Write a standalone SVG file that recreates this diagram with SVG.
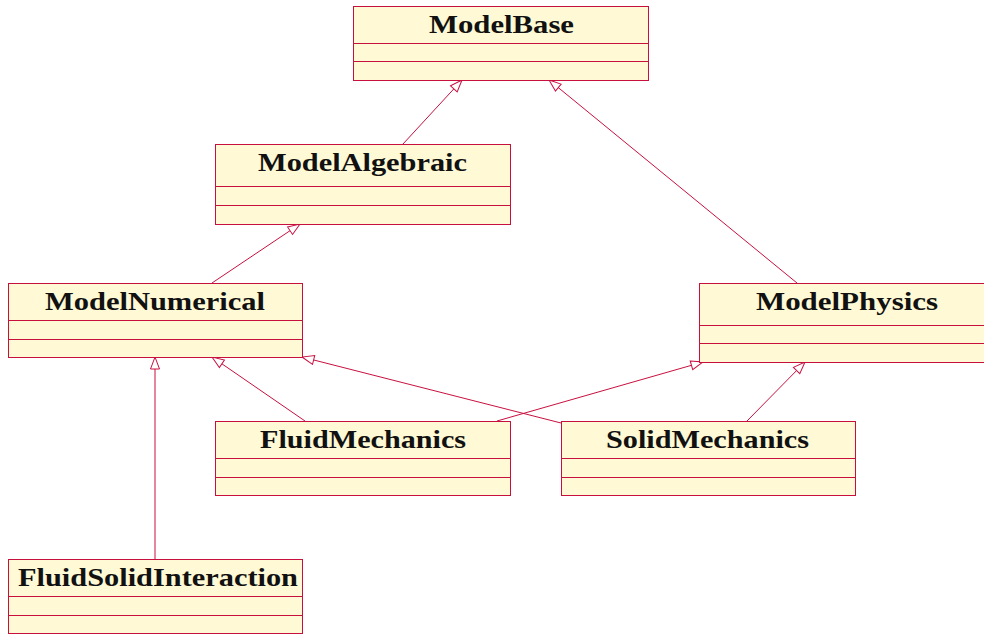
<svg xmlns="http://www.w3.org/2000/svg" width="984" height="635" viewBox="0 0 984 635">
<style>
.box{fill:#FFF9D5;stroke:#C8103F;stroke-width:1}
.div{stroke:#C8103F;stroke-width:1}
.t{font-family:"Liberation Serif",serif;font-weight:bold;font-size:25px;fill:#111;text-anchor:middle}
.c{stroke:#C8103F;stroke-width:1;fill:none;marker-end:url(#tri)}
</style>
<defs>
<marker id="tri" markerUnits="userSpaceOnUse" markerWidth="16" markerHeight="12" refX="13" refY="5.5" orient="auto">
<path d="M1,1 L13,5.5 L1,10 z" fill="#fff" stroke="#C8103F" stroke-width="1"/>
</marker>
</defs>
<rect width="984" height="635" fill="#fff"/>
<g id="connectors">
<path class="c" d="M403,144 L462,80"/>
<path class="c" d="M797,283 L549,80"/>
<path class="c" d="M212,283 L300,224"/>
<path class="c" d="M155,559 L155,357"/>
<path class="c" d="M305,421 L212,357"/>
<path class="c" d="M561,423 L302,357"/>
<path class="c" d="M497,421 L703,362"/>
<path class="c" d="M747,421 L805,362"/>
</g>
<g id="ModelBase">
<rect class="box" x="353.5" y="6.5" width="295" height="74"/>
<line class="div" x1="353.5" y1="43.5" x2="648.5" y2="43.5"/>
<line class="div" x1="353.5" y1="61.5" x2="648.5" y2="61.5"/>
<text class="t" x="501.5" y="33" textLength="145" lengthAdjust="spacingAndGlyphs">ModelBase</text>
</g>
<g id="ModelAlgebraic">
<rect class="box" x="215.5" y="144.5" width="295" height="80"/>
<line class="div" x1="215.5" y1="186.5" x2="510.5" y2="186.5"/>
<line class="div" x1="215.5" y1="205.5" x2="510.5" y2="205.5"/>
<text class="t" x="362.5" y="171" textLength="209" lengthAdjust="spacingAndGlyphs">ModelAlgebraic</text>
</g>
<g id="ModelNumerical">
<rect class="box" x="8.5" y="283.5" width="294" height="74"/>
<line class="div" x1="8.5" y1="320.5" x2="302.5" y2="320.5"/>
<line class="div" x1="8.5" y1="339.5" x2="302.5" y2="339.5"/>
<text class="t" x="155" y="310" textLength="220" lengthAdjust="spacingAndGlyphs">ModelNumerical</text>
</g>
<g id="ModelPhysics">
<rect class="box" x="699.5" y="283.5" width="295" height="79"/>
<line class="div" x1="699.5" y1="325.5" x2="994.5" y2="325.5"/>
<line class="div" x1="699.5" y1="343.5" x2="994.5" y2="343.5"/>
<text class="t" x="847" y="310" textLength="182" lengthAdjust="spacingAndGlyphs">ModelPhysics</text>
</g>
<g id="FluidMechanics">
<rect class="box" x="215.5" y="421.5" width="295" height="74"/>
<line class="div" x1="215.5" y1="458.5" x2="510.5" y2="458.5"/>
<line class="div" x1="215.5" y1="477.5" x2="510.5" y2="477.5"/>
<text class="t" x="363" y="448" textLength="206" lengthAdjust="spacingAndGlyphs">FluidMechanics</text>
</g>
<g id="SolidMechanics">
<rect class="box" x="561.5" y="421.5" width="294" height="74"/>
<line class="div" x1="561.5" y1="458.5" x2="855.5" y2="458.5"/>
<line class="div" x1="561.5" y1="477.5" x2="855.5" y2="477.5"/>
<text class="t" x="707.5" y="448" textLength="203" lengthAdjust="spacingAndGlyphs">SolidMechanics</text>
</g>
<g id="FluidSolidInteraction">
<rect class="box" x="8.5" y="559.5" width="294" height="74"/>
<line class="div" x1="8.5" y1="596.5" x2="302.5" y2="596.5"/>
<line class="div" x1="8.5" y1="615.5" x2="302.5" y2="615.5"/>
<text class="t" x="158" y="586" textLength="280" lengthAdjust="spacingAndGlyphs">FluidSolidInteraction</text>
</g>
</svg>
